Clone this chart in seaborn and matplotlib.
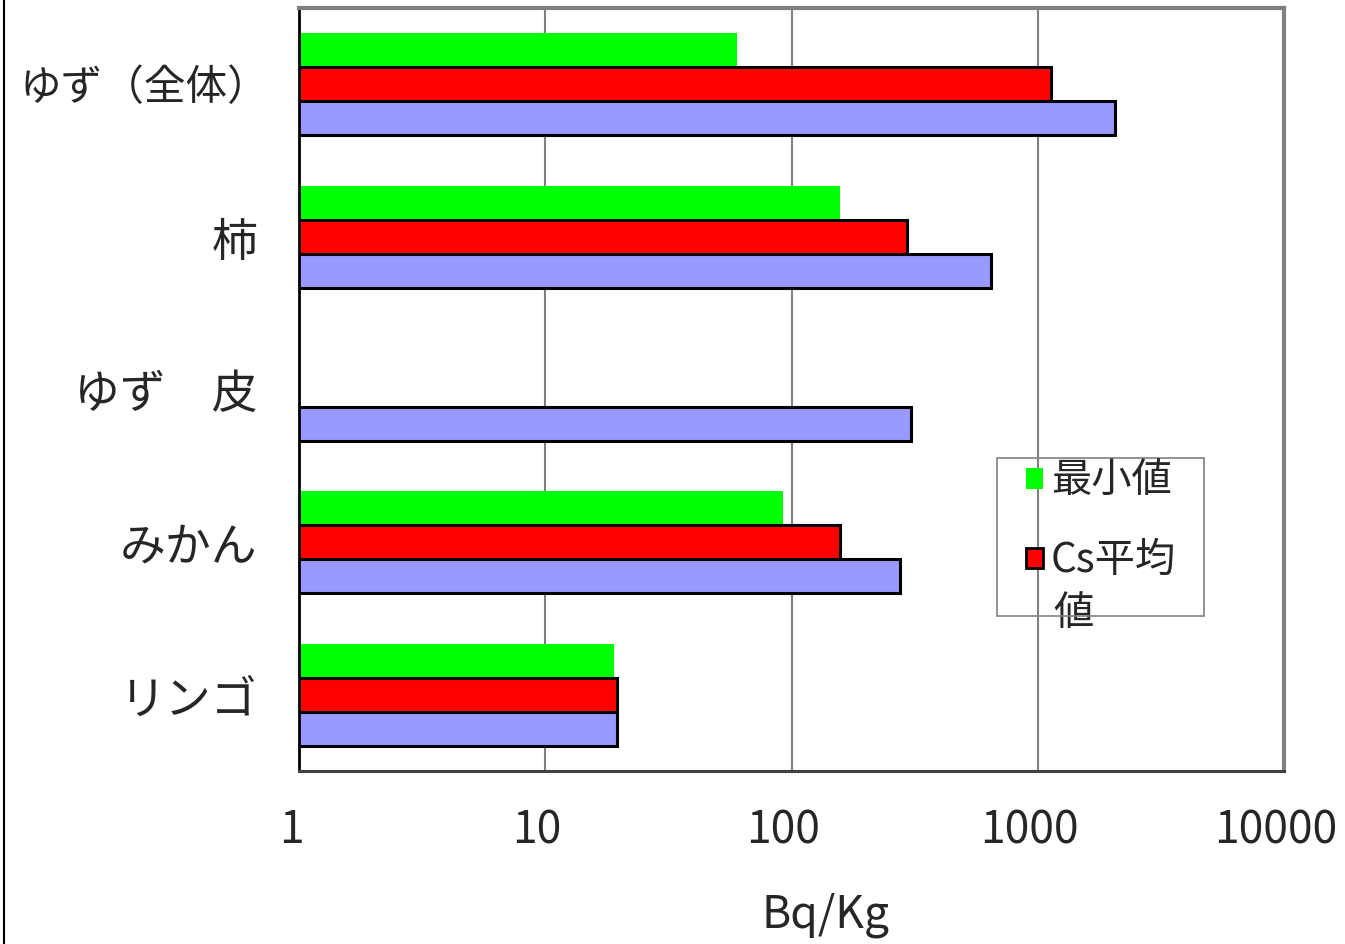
import numpy as np
import pandas as pd
import matplotlib
matplotlib.use('Agg')
import matplotlib.pyplot as plt
import matplotlib.transforms as mtransforms
from matplotlib.patches import Patch, Rectangle
from matplotlib.lines import Line2D
import seaborn as sns

categories = ['ゆず（全体）', '柿', 'ゆず　皮', 'みかん', 'リンゴ']
series = ['最小値', 'Cs平均値', '最大値']
min_vals = [60, 157, np.nan, 92, 19]
avg_vals = [1130, 294, np.nan, 157, 19.6]
max_vals = [2060, 646, 306, 276, 19.6]
x_ticks = [1, 10, 100, 1000, 10000]

sns.set_style('white')
plt.rcParams['font.family'] = ['Noto Sans CJK JP', 'DejaVu Sans']

rows = []
for s, vals in zip(series, [min_vals, avg_vals, max_vals]):
    for c, v in zip(categories, vals):
        rows.append({'cat': c, 'series': s, 'value': v})
df = pd.DataFrame(rows)

colors = {'最小値': '#00FF00', 'Cs平均値': '#FF0000', '最大値': '#9999FF'}

fig = plt.figure(figsize=(13.45, 9.44), dpi=100)
ax = fig.add_axes([299/1345, 1-771/944, 985/1345, 763/944])

sns.barplot(data=df, y='cat', x='value', hue='series', order=categories,
            hue_order=series, palette=colors, orient='h', width=0.67,
            legend=False, ax=ax, saturation=1)

for cont, s in zip(ax.containers, series):
    for p in cont:
        if s == '最小値':
            p.set_edgecolor('none')
        else:
            p.set_edgecolor('black')
            p.set_linewidth(2.2)

ax.set_xscale('log')
ax.set_xlim(1, 10000)
ax.set_ylim(4.5, -0.5)
ax.set_xticks(x_ticks)
ax.set_xticklabels([str(t) for t in x_ticks])
ax.xaxis.set_minor_locator(matplotlib.ticker.NullLocator())
ax.tick_params(axis='x', length=0, pad=26, labelsize=32)
ax.tick_params(axis='y', which='major', length=0, pad=30, labelsize=33)
ax.set_yticks(np.arange(-0.5, 5, 1), minor=True)
ax.tick_params(axis='y', which='minor', direction='in', length=12, color='#808080', width=1.5)
ax.grid(axis='x', which='major', color='#808080', linewidth=1.5)
ax.set_axisbelow(True)

# shift x tick labels a little to the left like the original
shift = mtransforms.ScaledTranslation(-8/100, 0, fig.dpi_scale_trans)
for lab in ax.get_xticklabels():
    lab.set_transform(lab.get_transform() + shift)
first = ax.get_yticklabels()[0]
first.set_fontsize(30)
first.set_transform(first.get_transform() + mtransforms.ScaledTranslation(12/100, 0, fig.dpi_scale_trans))

ax.set_ylabel('')
ax.set_xlabel('Bq/Kg', fontsize=32)
ax.xaxis.set_label_coords(0.535, -0.189)
ax.xaxis.label.set_va('center')

for side in ['top', 'right']:
    ax.spines[side].set_color('#808080')
    ax.spines[side].set_linewidth(3)
ax.spines['left'].set_color('black')
ax.spines['left'].set_linewidth(2)
ax.spines['bottom'].set_color('#404040')
ax.spines['bottom'].set_linewidth(2.2)

# legend (only two entries visible in the original)
handles = [Patch(facecolor='#00FF00', edgecolor='none'),
           Patch(facecolor='#FF0000', edgecolor='black', linewidth=2)]
leg = ax.legend(handles, ['最小値', 'Cs平均'], loc='upper left',
                bbox_to_anchor=((1018-299)/985, (771-453)/763), frameon=False,
                fontsize=29, handlelength=0.42, handleheight=0.42,
                handletextpad=0.2, labelspacing=0.95, borderpad=0.2,
                borderaxespad=0)
ax.text((1053-299)/985, (771-614)/763, '値', transform=ax.transAxes,
        fontsize=29, va='center', ha='left')
ax.add_patch(Rectangle(((997-299)/985, (771-616)/763), (1204-997)/985, (616-458)/763,
                       transform=ax.transAxes, fill=False, edgecolor='#808080',
                       linewidth=1.2, zorder=4))

fig.add_artist(Line2D([0.003, 0.003], [0, 1], color='black', linewidth=1.5))

fig.savefig('out.png', dpi=100)
